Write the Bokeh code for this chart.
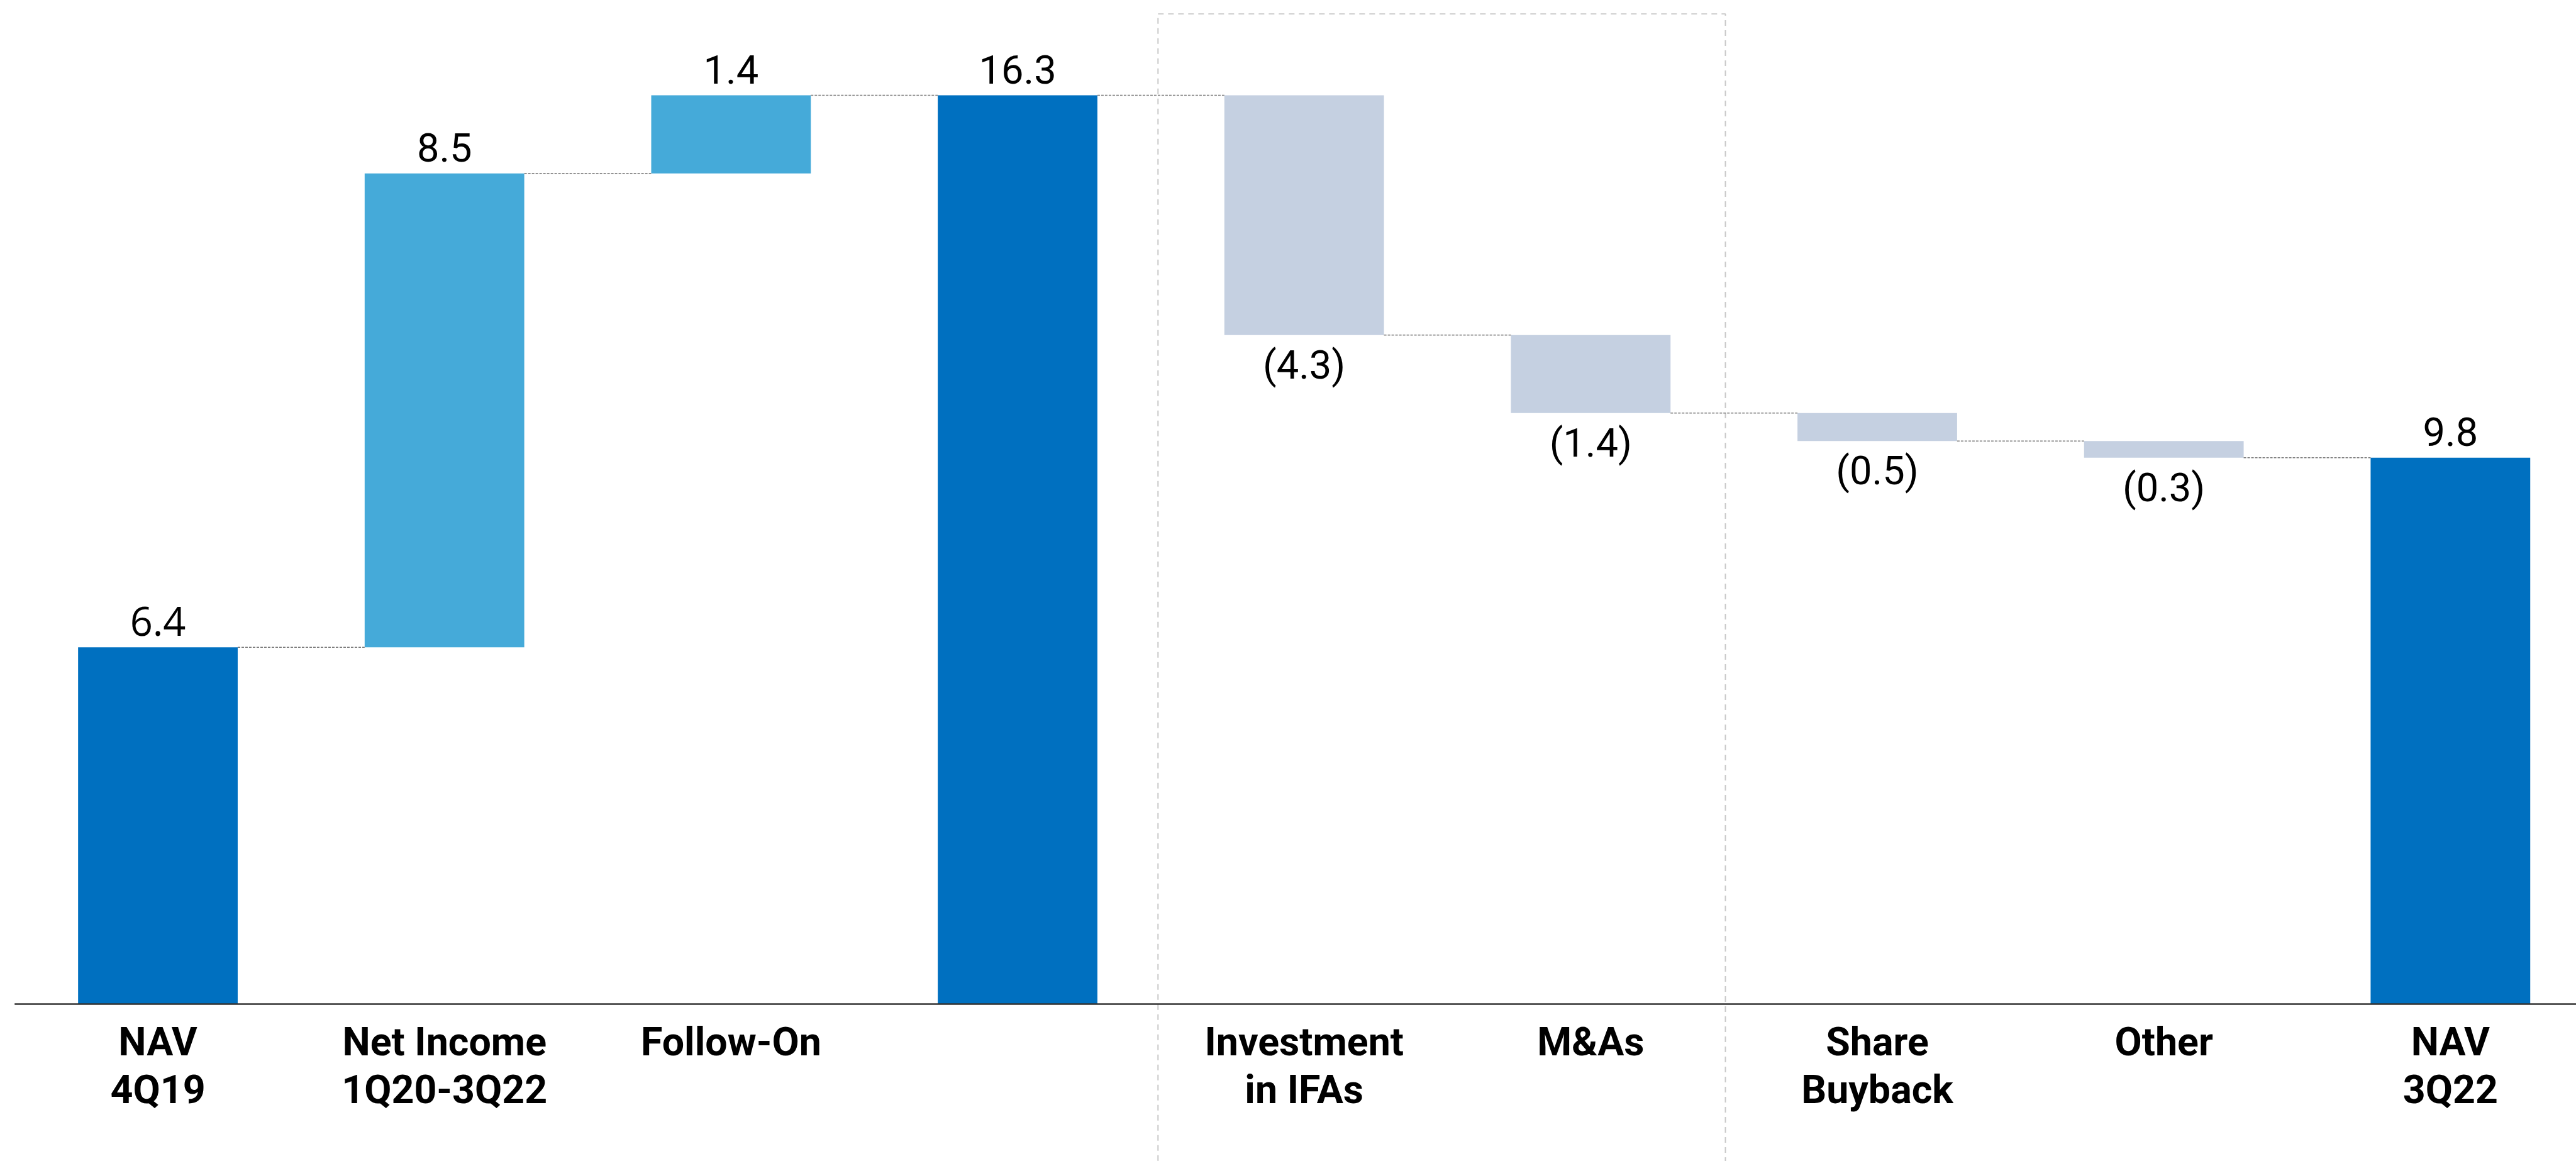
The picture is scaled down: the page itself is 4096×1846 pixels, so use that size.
from bokeh.plotting import figure
from bokeh.models import ColumnDataSource, Range1d
from bokeh.core.properties import value
from bokeh.embed import file_html
from bokeh.resources import INLINE

# ---- data ----
categories = ["NAV\n4Q19", "Net Income\n1Q20-3Q22", "Follow-On", "",
              "Investment\nin IFAs", "M&As", "Share\nBuyback", "Other", "NAV\n3Q22"]
changes = [6.4, 8.5, 1.4, 16.3, -4.3, -1.4, -0.5, -0.3, 9.8]
kinds = ["total", "increase", "increase", "total",
         "decrease", "decrease", "decrease", "decrease", "total"]

# ---- styles ----
S = 0.988
COLORS = {"total": "#0070C0", "increase": "#45AAD9", "decrease": "#C5D0E1"}
BAR_W = 0.557
SHIFT = -21  # baseline correction (reference px)

# ---- waterfall geometry from the values ----
xs = list(range(len(categories)))
bottoms, tops, ends = [], [], []
running = 0.0
for v, k in zip(changes, kinds):
    if k == "total":
        b, t = 0.0, v
        running = v
    else:
        b, t = min(running, running + v), max(running, running + v)
        running = running + v
    bottoms.append(b)
    tops.append(t)
    ends.append(running)

bars = ColumnDataSource(dict(
    x=xs, bottom=bottoms, top=tops,
    color=[COLORS[k] for k in kinds],
))

p = figure(width=4096, height=1846,
           x_range=Range1d(-0.5499, 8.4393), y_range=Range1d(-2.820, 18.004),
           output_backend="svg", toolbar_location=None, min_border=0)
p.outline_line_color = None
p.background_fill_color = "white"
p.border_fill_color = "white"
p.xaxis.visible = False
p.yaxis.visible = False
p.xgrid.visible = False
p.ygrid.visible = False

# dashed group box
p.quad(left=[3.49], right=[5.47], top=[17.76], bottom=[-5.0],
       fill_color=None, line_color="#c8c8c8", line_width=2 * S, line_dash="9 7")

# bars
p.vbar(x="x", width=BAR_W, bottom="bottom", top="top", source=bars,
       fill_color="color", line_color=None)

# connectors
conn = ColumnDataSource(dict(
    x0=[x + BAR_W / 2 for x in xs[:-1]],
    x1=[x + 1 - BAR_W / 2 for x in xs[:-1]],
    y=ends[:-1],
))
p.segment(x0="x0", y0="y", x1="x1", y1="y", source=conn,
          line_color="#7a7a7a", line_width=1.5 * S, line_dash="4 2")

# baseline
p.segment(x0=[-0.5], y0=[0], x1=[8.44], y1=[0], line_color="#333333", line_width=2.5 * S)

# value labels
pos_x, pos_y, pos_t, pos_f = [], [], [], []
neg_x, neg_y, neg_t = [], [], []
for i, (v, k) in enumerate(zip(changes, kinds)):
    if v >= 0:
        pos_x.append(i); pos_y.append(tops[i]); pos_t.append(f"{v:.1f}")
        pos_f.append("Open Sans" if i == 0 else "Roboto")
    else:
        neg_x.append(i); neg_y.append(bottoms[i]); neg_t.append(f"({abs(v):.1f})")

p.text(x="x", y="y", text="t", source=ColumnDataSource(dict(x=pos_x, y=pos_y, t=pos_t, f=pos_f)),
       text_font="f", text_font_size=f"{64 * S:.1f}px", text_color="#000000",
       text_align="center", text_baseline="alphabetic", y_offset=(-20.7 + SHIFT) * S)
p.text(x="x", y="y", text="t", source=ColumnDataSource(dict(x=neg_x, y=neg_y, t=neg_t)),
       text_font=value("Roboto"), text_font_size=f"{64 * S:.1f}px", text_color="#000000",
       text_align="center", text_baseline="alphabetic", y_offset=(66.7 + SHIFT + 2) * S)

# category labels (two lines)
l1 = [c.split("\n")[0] for c in categories]
l2 = [c.split("\n")[1] if "\n" in c else "" for c in categories]
p.text(x=xs, y=[0] * len(xs), text=l1,
       text_font=value("Roboto"), text_font_style="bold", text_font_size=f"{63.5 * S:.1f}px",
       text_color="#000000", text_align="center", text_baseline="alphabetic",
       y_offset=(81.7 + SHIFT) * S)
p.text(x=xs, y=[0] * len(xs), text=l2,
       text_font=value("Roboto"), text_font_style="bold", text_font_size=f"{63.5 * S:.1f}px",
       text_color="#000000", text_align="center", text_baseline="alphabetic",
       y_offset=(159 + SHIFT) * S)

open("out.html", "w").write(file_html(p, INLINE))
